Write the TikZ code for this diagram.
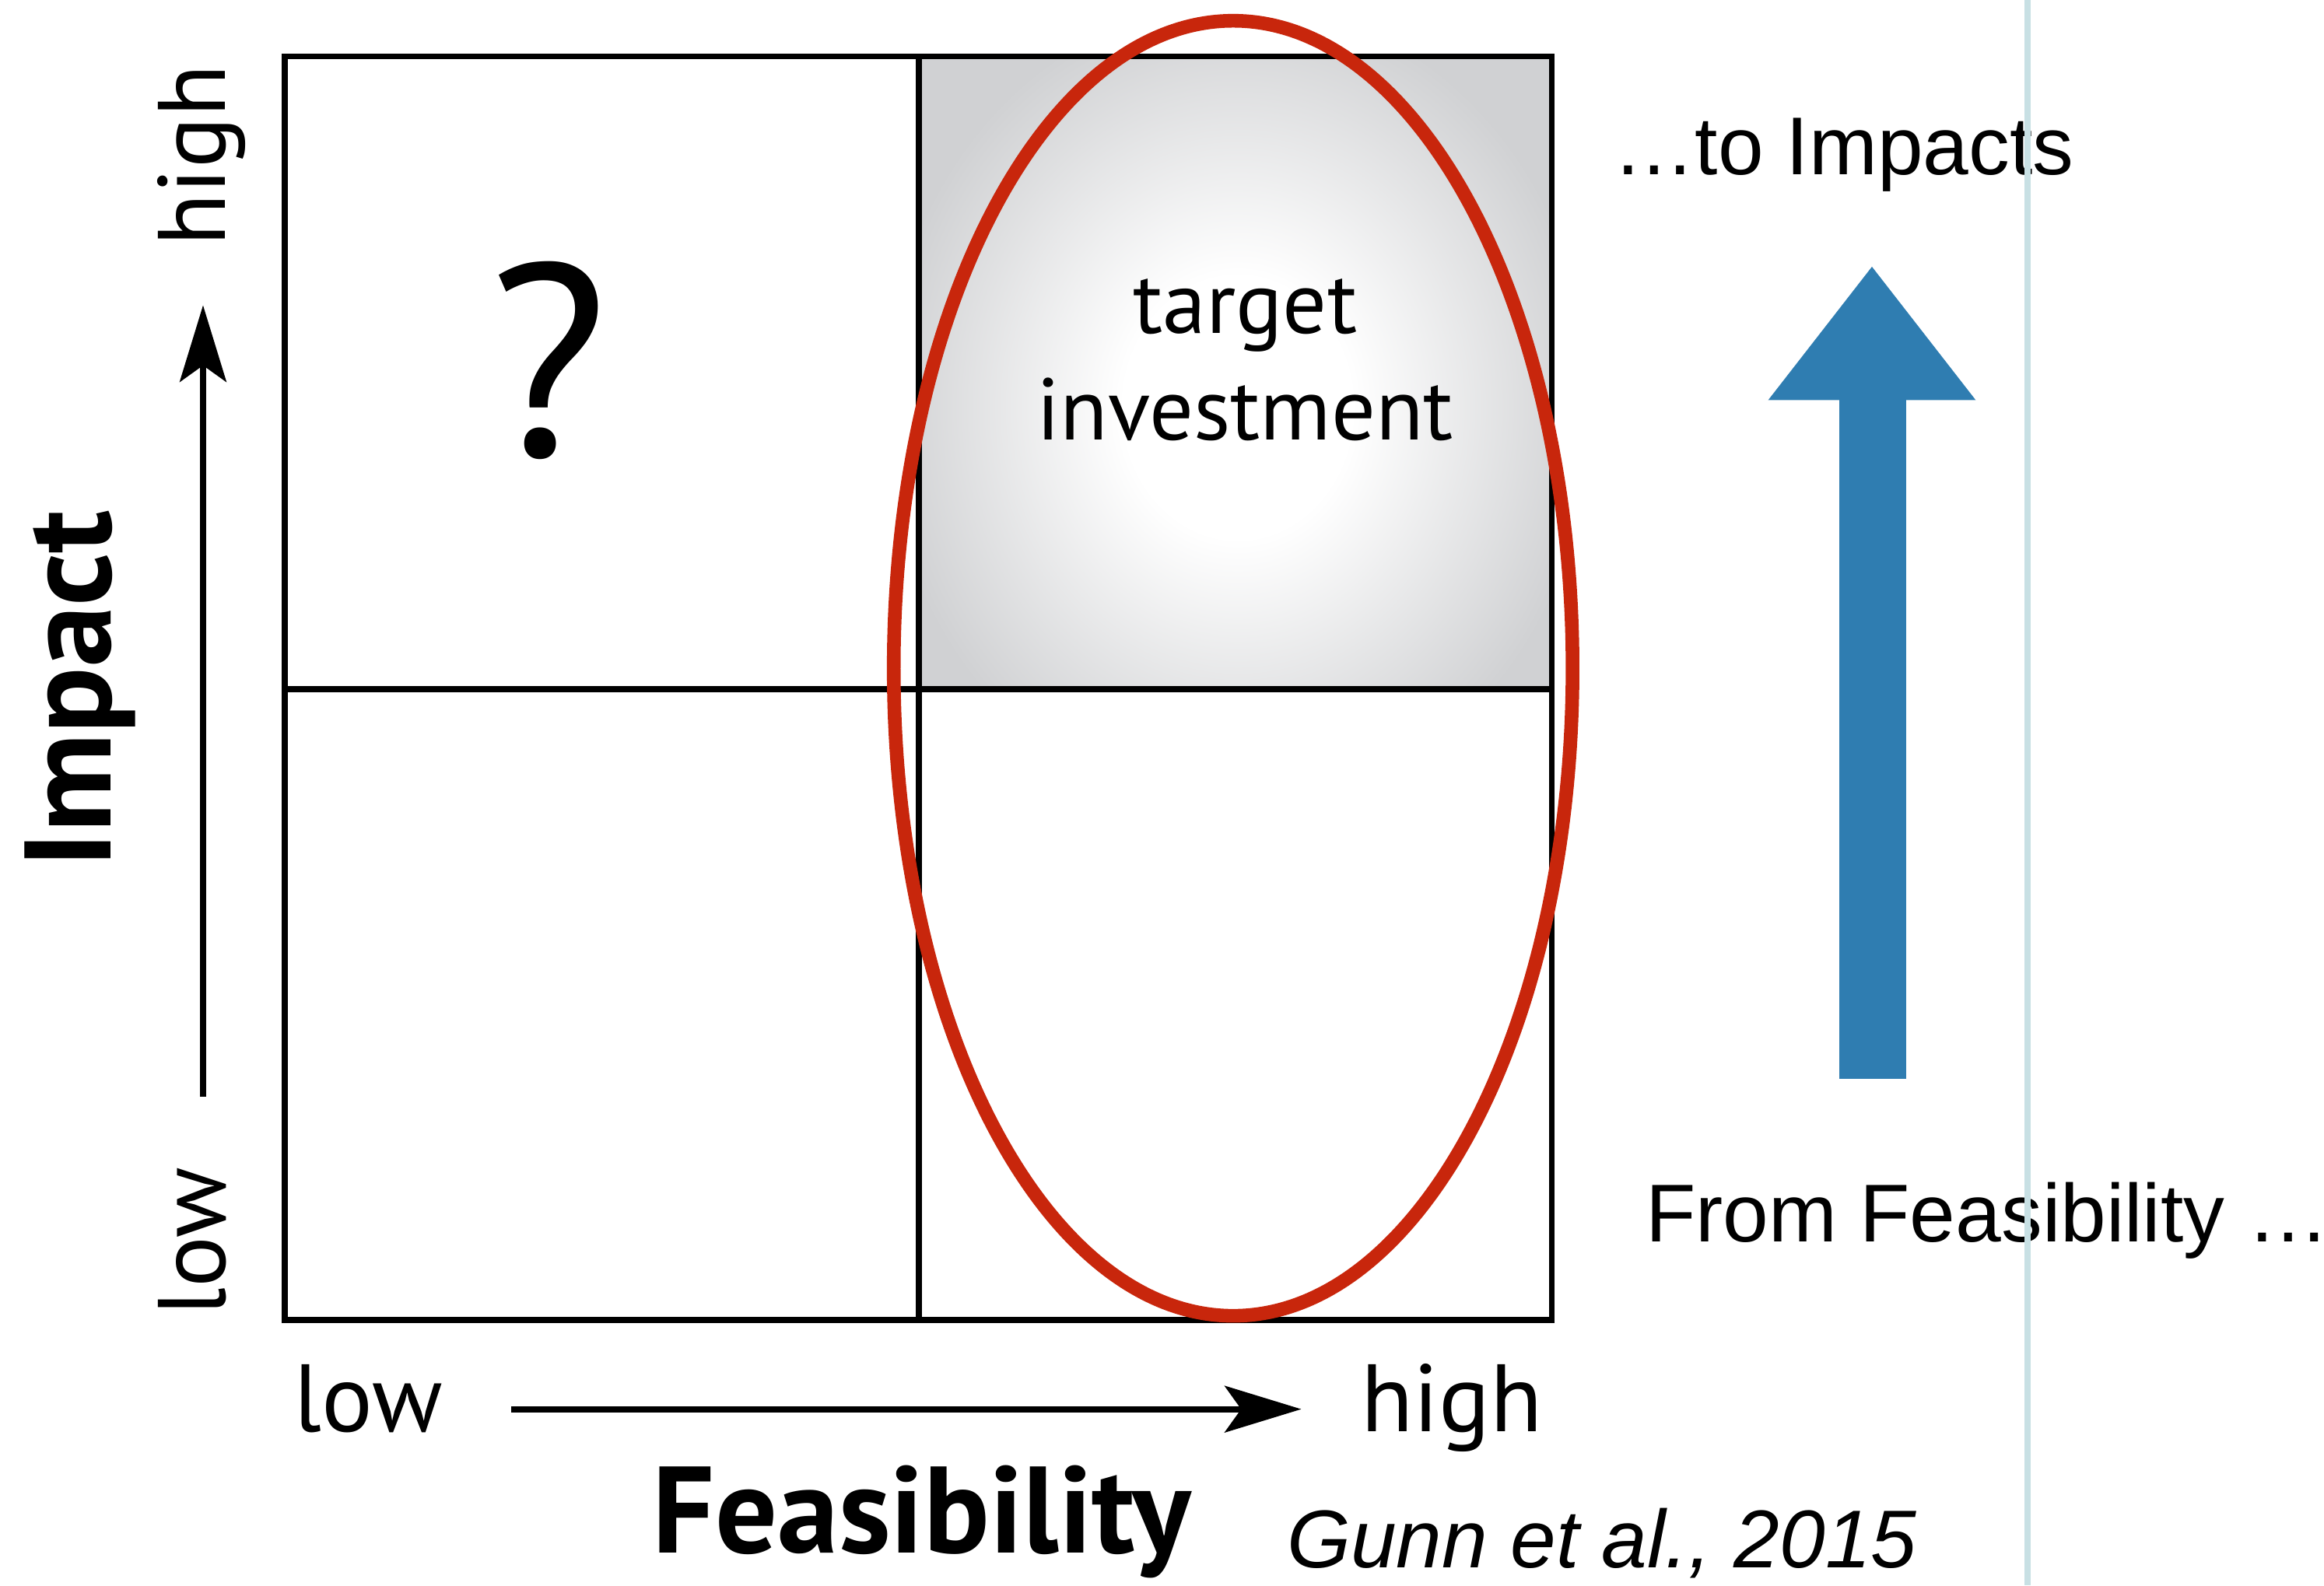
\documentclass[tikz,border=0pt]{standalone}
\usepackage{fontspec}
\setmainfont{Liberation Sans}
\newfontfamily\figfont{PT Sans}
\usetikzlibrary{arrows.meta}
\usetikzlibrary{positioning}
\definecolor{quadgray}{RGB}{208,209,211}
\definecolor{ringred}{RGB}{200,38,12}
\definecolor{arrowblue}{RGB}{47,125,177}
\definecolor{rulecyan}{RGB}{200,224,228}
\pgfdeclareradialshading{glow}{\pgfpoint{0bp}{0bp}}{color(0bp)=(white); color(8bp)=(white); color(25bp)=(quadgray); color(50bp)=(quadgray)}
\tikzstyle{gridline}=[line width=2.2pt, black]
\tikzstyle{axisarrow}=[->, line width=2.2pt]
\tikzstyle{axislabel}=[inner sep=0pt, font=\figfont\fontsize{35}{42}\selectfont]
\tikzstyle{axistitle}=[inner sep=0pt, font=\figfont\bfseries\fontsize{45}{52}\selectfont]
\tikzstyle{quadtext}=[inner sep=0pt, anchor=base, font=\figfont\fontsize{32}{38}\selectfont]
\tikzstyle{qmark}=[inner sep=0pt, anchor=base, font=\figfont\fontsize{100}{110}\selectfont]
\tikzstyle{slidetext}=[inner sep=0pt, anchor=base west, font=\fontsize{30}{36}\selectfont]
\tikzstyle{citetext}=[inner sep=0pt, anchor=base west, font=\itshape\fontsize{30}{36}\selectfont]

\begin{document}
\begin{tikzpicture}[x=0.01905cm, y=-0.01905cm, >={Stealth[length=28pt, width=17pt, inset=6pt]}]
    \useasboundingbox (0,0) rectangle (1568,1070);

    % grid corners
    \coordinate (sw) at (192,891);
    \coordinate (ne) at (1047,38);
    \coordinate (mid) at (620,465);

    % shaded top right quadrant
    \fill[quadgray] (mid) rectangle (ne);
    \begin{scope}
        \clip (mid) rectangle (ne);
        \shade[shading=glow] (835,275) ellipse (240 and 275);
    \end{scope}

    % grid
    \draw[gridline] (sw) rectangle (ne);
    \draw[gridline] (sw -| mid) -- (ne -| mid);
    \draw[gridline] (sw |- mid) -- (ne |- mid);

    % quadrant texts
    \node[qmark] (qmark) at (370,308) {?};
    \node[quadtext] (target) at (840,225) {target};
    \node[quadtext] (invest) at (840,297) {investment};

    % impact axis
    \node[axislabel, rotate=90, anchor=base] (ihigh) at (152,105) {high};
    \node[axislabel, rotate=90, anchor=base] (ilow) at (152,838) {low};
    \node[axistitle, rotate=90, anchor=base] (impact) at (75,465) {Impact};
    \coordinate (istart) at (137,740);
    \coordinate (iend) at (137,206);
    \draw[axisarrow] (istart) -- (iend);

    % feasibility axis
    \node[axislabel, anchor=base west] (flow) at (198,966) {low};
    \node[axislabel, anchor=base west] (fhigh) at (918,966) {high};
    \node[axistitle, anchor=base] (feas) at (622,1048) {Feasibility};
    \coordinate (fstart) at (345,951);
    \coordinate (fend) at (878,951);
    \draw[axisarrow] (fstart) -- (fend);

    % red ring
    \draw[ringred, line width=5pt] (832,451) ellipse (229 and 437);

    % slide side
    \node[slidetext] (toimp) at (1088,118) {\ldots to Impacts};
    \node[slidetext] (fromfeas) at (1110,838) {From Feasibility \ldots};
    \node[citetext] (gunn) at (868,1058) {Gunn et al., 2015};
    \fill[arrowblue] (1241,728) -- (1241,270) -- (1193,270) -- (1263,180)
        -- (1333,270) -- (1286,270) -- (1286,728) -- cycle;
    \draw[rulecyan, line width=2.2pt] (1368,0) -- (1368,1070);
\end{tikzpicture}
\end{document}
